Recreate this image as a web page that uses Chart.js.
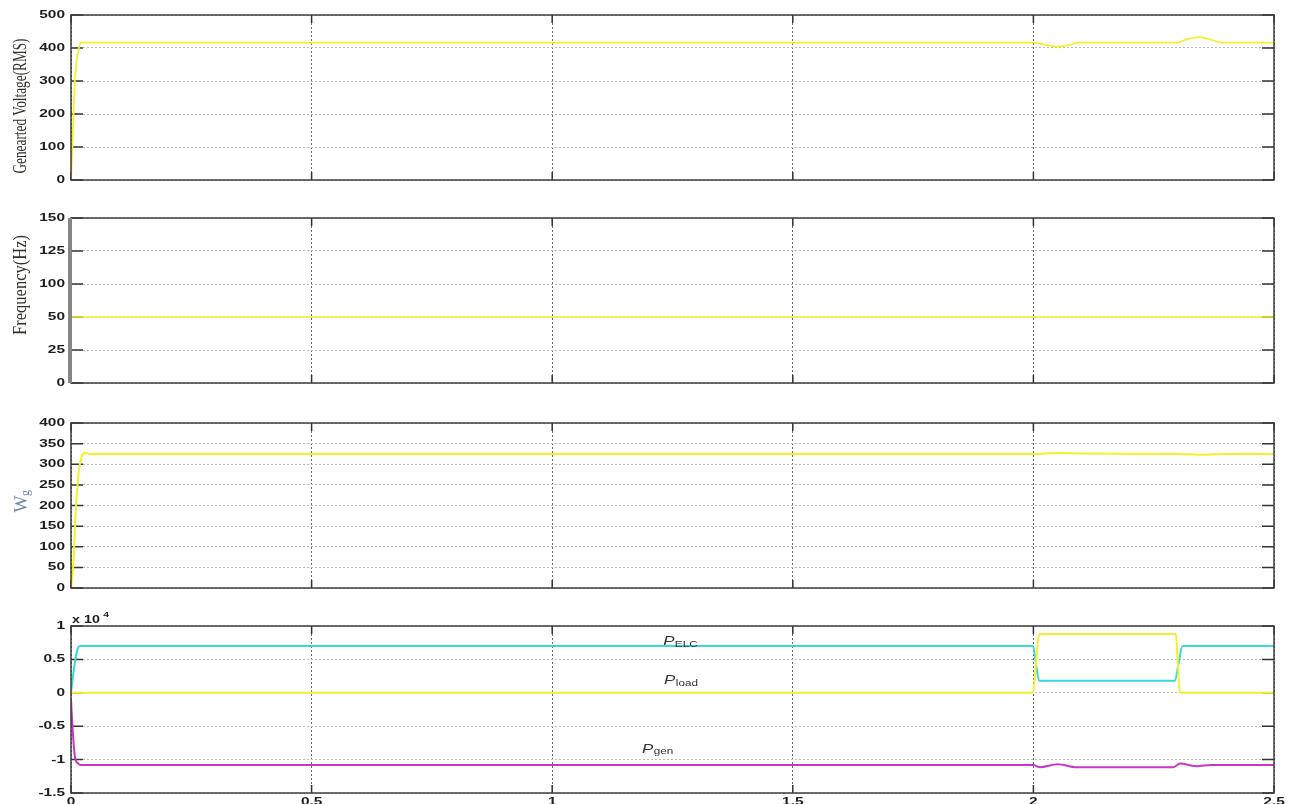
<!DOCTYPE html>
<html>
<head>
<meta charset="utf-8">
<script src="https://cdn.jsdelivr.net/npm/chart.js@4.4.1/dist/chart.umd.min.js"></script>
<style>
body { margin: 0; background: #fff; width: 1297px; height: 804px; overflow: hidden; position: relative; }
canvas { position: absolute; left: 0; }
</style>
</head>
<body>
<canvas id="volt"></canvas>
<canvas id="freq"></canvas>
<canvas id="speed"></canvas>
<canvas id="power"></canvas>
<script>
// time in seconds
var voltT = [0, 0.004, 0.008, 0.015, 0.022, 2.0, 2.02, 2.051, 2.075, 2.093, 2.298, 2.32, 2.346, 2.37, 2.392, 2.5];
var voltV = [0, 150, 300, 390, 416, 416, 411, 404, 409, 416, 416, 427, 433, 425, 416, 416];

var freqT = [0, 2.5];
var freqV = [50, 50];
var freqLabels = ["0", "25", "50", "100", "125", "150"]; // as printed on the axis

var speedT = [0, 0.005, 0.01, 0.015, 0.022, 0.029, 0.04, 2.0, 2.05, 2.1, 2.3, 2.35, 2.4, 2.5];
var speedV = [0, 60, 189, 270, 318, 328, 325, 325, 327, 326, 325, 323, 325, 325];

// powers in units of 1e4 W
var elcT = [0, 0.008, 0.015, 0.02, 1.999, 2.006, 2.012, 2.294, 2.302, 2.31, 2.5];
var elcV = [0, 0.45, 0.68, 0.7, 0.7, 0.4, 0.18, 0.18, 0.45, 0.7, 0.7];
var loadT = [0, 1.999, 2.006, 2.012, 2.296, 2.3, 2.305, 2.5];
var loadV = [0, 0, 0.5, 0.88, 0.88, 0.45, 0, 0];
var genT = [0, 0.003, 0.008, 0.015, 0.02, 2.0, 2.013, 2.05, 2.09, 2.29, 2.305, 2.34, 2.37, 2.5];
var genV = [-0.1, -0.5, -0.95, -1.06, -1.08, -1.08, -1.115, -1.07, -1.115, -1.115, -1.06, -1.1, -1.08, -1.08];

// curve names written on the power plot (x in s, y in 1e4 W)
var powerNames = ["ELC", "load", "gen"];
var powerNameX = [1.243, 1.245, 1.199];
var powerNameY = [0.775, 0.19, -0.84];

function pts(t, v) {
    return t.map(function (x, i) { return { x: x, y: v[i] }; });
}

var extra = {}; // per canvas drawing bits

function tickText(ctx, text, x, y, align, base) {
    ctx.save();
    ctx.translate(x, y);
    ctx.scale(1.4, 1);
    ctx.textAlign = align;
    ctx.textBaseline = base;
    ctx.fillText(text, 0, 0);
    ctx.restore();
}

function fmt(v) {
    return String(+v.toFixed(2));
}

var framePlugin = {
    id: 'frame',
    beforeDatasetsDraw: function (chart) {
        // inner tick marks, under the traces
        var ctx = chart.ctx, a = chart.chartArea;
        var xs = chart.scales.x, ys = chart.scales.y;
        ctx.save();
        ctx.strokeStyle = '#333';
        ctx.lineWidth = 1.5;
        ys.ticks.forEach(function (t) {
            var y = ys.getPixelForValue(t.value);
            ctx.beginPath();
            ctx.moveTo(a.left, y); ctx.lineTo(a.left + 12, y);
            ctx.moveTo(a.right - 12, y); ctx.lineTo(a.right, y);
            ctx.stroke();
        });
        xs.ticks.forEach(function (t) {
            var x = xs.getPixelForValue(t.value);
            ctx.beginPath();
            ctx.moveTo(x, a.top); ctx.lineTo(x, a.top + 8);
            ctx.moveTo(x, a.bottom); ctx.lineTo(x, a.bottom - 8);
            ctx.stroke();
        });
        ctx.restore();
    },
    afterDraw: function (chart) {
        var cfg = extra[chart.canvas.id];
        var ctx = chart.ctx, a = chart.chartArea;
        var xs = chart.scales.x, ys = chart.scales.y;
        ctx.save();
        ctx.strokeStyle = '#3c3c3c';
        ctx.lineWidth = 1.5;
        ctx.strokeRect(a.left, a.top, a.right - a.left, a.bottom - a.top);
        if (cfg.thickLeft) {
            ctx.strokeStyle = '#858585';
            ctx.lineWidth = 4;
            ctx.beginPath();
            ctx.moveTo(a.left - 1, a.top); ctx.lineTo(a.left - 1, a.bottom);
            ctx.stroke();
        }

        // tick labels
        ctx.fillStyle = '#1e1e1e';
        ctx.font = 'bold 11px "Liberation Sans", Arial, sans-serif';
        ys.ticks.forEach(function (t, i) {
            var lab = cfg.yLabels ? cfg.yLabels[i] : fmt(t.value);
            tickText(ctx, lab, a.left - 6, ys.getPixelForValue(t.value), 'right', 'middle');
        });
        if (cfg.xLabels) {
            xs.ticks.forEach(function (t) {
                tickText(ctx, fmt(t.value), xs.getPixelForValue(t.value), a.bottom + 3, 'center', 'top');
            });
        }

        // axis titles, page coordinates
        ctx.translate(0, -cfg.top);
        if (cfg.title) {
            ctx.save();
            ctx.translate(cfg.title.x, cfg.title.y);
            ctx.rotate(-Math.PI / 2);
            ctx.font = cfg.title.font;
            ctx.fillStyle = cfg.title.color;
            ctx.textAlign = 'center';
            ctx.textBaseline = 'middle';
            var w = ctx.measureText(cfg.title.text).width;
            ctx.scale(cfg.title.len / w, 1);
            ctx.fillText(cfg.title.text, 0, 0);
            ctx.restore();
        }
        if (cfg.wg) {
            ctx.save();
            ctx.translate(22, 504);
            ctx.rotate(-Math.PI / 2);
            ctx.fillStyle = '#6f86ae';
            ctx.textBaseline = 'middle';
            ctx.textAlign = 'center';
            ctx.font = '18px "Liberation Serif", serif';
            ctx.fillText('W', 0, 0);
            ctx.font = '12px "Liberation Serif", serif';
            ctx.fillText('g', 11, 4);
            ctx.restore();
        }
        ctx.translate(0, cfg.top);
        if (cfg.power) {
            ctx.fillStyle = '#1e1e1e';
            ctx.font = 'bold 11px "Liberation Sans", Arial, sans-serif';
            ctx.textAlign = 'left';
            ctx.textBaseline = 'alphabetic';
            ctx.save();
            ctx.translate(a.left + 1, a.top - 3);
            ctx.scale(1.3, 1);
            ctx.fillText('x 10', 0, 0);
            ctx.font = 'bold 8px "Liberation Sans", Arial, sans-serif';
            ctx.fillText('4', 24, -6);
            ctx.restore();
            powerNames.forEach(function (n, i) {
                var px = xs.getPixelForValue(powerNameX[i]);
                var py = ys.getPixelForValue(powerNameY[i]);
                ctx.save();
                ctx.translate(px - 6, py);
                ctx.scale(1.3, 1);
                ctx.fillStyle = '#333';
                ctx.textBaseline = 'middle';
                ctx.font = 'italic 13px "Liberation Sans", Arial, sans-serif';
                ctx.fillText('P', 0, 0);
                ctx.font = '9px "Liberation Sans", Arial, sans-serif';
                ctx.fillText(n, 9, 3);
                ctx.restore();
            });
        }
        ctx.restore();
    }
};

function makePanel(id, box, yMin, yMax, yStep, sets, cfg) {
    var cv = document.getElementById(id);
    var last = !!cfg.xLabels;
    var padTop = last ? 22 : 10;
    var top = box[0] - padTop;
    var h = last ? 804 - top : (box[1] - box[0]) + 20;
    cv.width = 1297;
    cv.height = h;
    cv.style.top = top + 'px';
    cv.style.width = '1297px';
    cv.style.height = h + 'px';
    cfg.top = top;
    extra[id] = cfg;
    return new Chart(cv, {
        type: 'line',
        data: { datasets: sets },
        options: {
            responsive: false,
            animation: false,
            devicePixelRatio: 1,
            layout: { padding: { top: padTop, right: 23, bottom: last ? 0 : 10, left: 0 } },
            plugins: { legend: { display: false }, tooltip: { enabled: false } },
            elements: {
                point: { radius: 0 },
                line: { borderWidth: 2, cubicInterpolationMode: 'monotone' }
            },
            scales: {
                x: {
                    type: 'linear', min: 0, max: 2.5,
                    ticks: { stepSize: 0.5, display: false },
                    grid: { color: '#6a6a6a', drawTicks: false, lineWidth: 1 },
                    border: { display: false, dash: [2, 2] },
                    afterFit: function (s) { s.height = last ? 11 : 0; }
                },
                y: {
                    min: yMin, max: yMax,
                    ticks: { stepSize: yStep, display: false },
                    grid: { color: '#b8b8b8', drawTicks: false, lineWidth: 1 },
                    border: { display: false, dash: [2, 2] },
                    afterFit: function (s) { s.width = 71; }
                }
            }
        },
        plugins: [framePlugin]
    });
}

makePanel('volt', [15, 180], 0, 500, 100, [
    { data: pts(voltT, voltV), borderColor: '#f2f22a', borderWidth: 1.8 }
], { title: { text: 'Genearted Voltage(RMS)', x: 21, y: 106, len: 135, font: '19px "Liberation Serif", serif', color: '#3a2e2a' } });

makePanel('freq', [218, 383], 0, 125, 25, [
    { data: pts(freqT, freqV), borderColor: '#f2f22a', borderWidth: 1.6 }
], { yLabels: freqLabels, thickLeft: true, title: { text: 'Frequency(Hz)', x: 21, y: 285, len: 100, font: '19px "Liberation Serif", serif', color: '#3a2e2a' } });

makePanel('speed', [423, 588], 0, 400, 50, [
    { data: pts(speedT, speedV), borderColor: '#f2f22a', borderWidth: 2 }
], { wg: true });

makePanel('power', [626, 793], -1.5, 1, 0.5, [
    { data: pts(loadT, loadV), borderColor: '#f0f030', borderWidth: 2 },
    { data: pts(elcT, elcV), borderColor: '#3ad8d8', borderWidth: 2 },
    { data: pts(genT, genV), borderColor: '#c838c8', borderWidth: 2 }
], { xLabels: true, power: true });
</script>
</body>
</html>
